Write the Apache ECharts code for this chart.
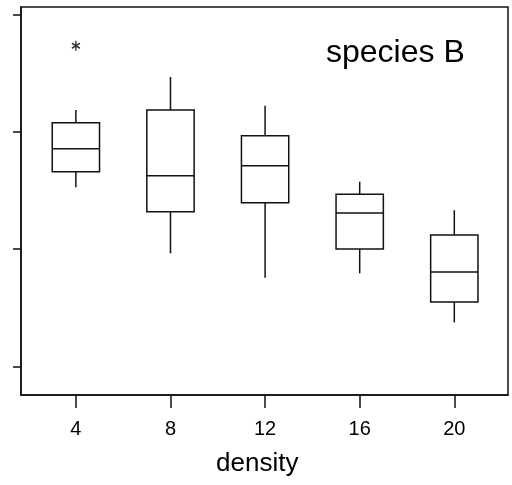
<!DOCTYPE html>
<html>
<head>
<meta charset="utf-8">
<script src="https://cdn.jsdelivr.net/npm/echarts@6/dist/echarts.min.js"></script>
<style>
  html, body { margin: 0; padding: 0; background: #fff; }
  #main { width: 512px; height: 485px; }
</style>
</head>
<body>
<div id="main"></div>
<script>
// density groups and box statistics
var densities   = [4, 8, 12, 16, 20];
var whiskerLow  = [25.27, 19.65, 17.58, 17.95, 13.78];
var q1          = [26.60, 23.20, 23.96, 20.02, 15.51];
var medians     = [28.56, 26.26, 27.11, 23.09, 18.06];
var q3          = [30.77, 31.85, 29.67, 24.68, 21.21];
var whiskerHigh = [31.85, 34.66, 32.22, 25.75, 23.32];
var outliers    = [[4, 37.33]];
var yTicks      = [10, 20, 30, 40];

var FONT = 'Liberation Sans, Arial, sans-serif';
var INK = '#111';

var boxData = densities.map(function (d, i) {
  return [d, whiskerLow[i], q1[i], medians[i], q3[i], whiskerHigh[i]];
});

function renderBox(params, api) {
  var x = api.value(0);
  var lo = api.coord([x, api.value(1)]);
  var b1 = api.coord([x, api.value(2)]);
  var md = api.coord([x, api.value(3)]);
  var b3 = api.coord([x, api.value(4)]);
  var hi = api.coord([x, api.value(5)]);
  var half = api.size([2.0, 0])[0] / 2;
  var st = { stroke: INK, lineWidth: 1.5, fill: 'none' };
  return {
    type: 'group',
    children: [
      { type: 'line', shape: { x1: lo[0], y1: lo[1], x2: b1[0], y2: b1[1] }, style: st },
      { type: 'line', shape: { x1: b3[0], y1: b3[1], x2: hi[0], y2: hi[1] }, style: st },
      { type: 'rect', shape: { x: b3[0] - half, y: b3[1], width: half * 2, height: b1[1] - b3[1] },
        style: { stroke: INK, lineWidth: 1.5, fill: '#fff' } },
      { type: 'line', shape: { x1: md[0] - half, y1: md[1], x2: md[0] + half, y2: md[1] }, style: st }
    ]
  };
}

var chart = echarts.init(document.getElementById('main'));
chart.setOption({
  animation: false,
  backgroundColor: '#fff',
  title: [
    { text: 'species B', left: 326, top: 37, padding: 0,
      textStyle: { fontFamily: FONT, fontSize: 32, fontWeight: 'normal', color: '#000', lineHeight: 32 } },
    { text: 'density', left: 216, top: 451, padding: 0,
      textStyle: { fontFamily: FONT, fontSize: 26, fontWeight: 'normal', color: '#000', lineHeight: 26 } }
  ],
  grid: {
    left: 21, right: 4, top: 7, bottom: 90,
    show: true, borderColor: INK, borderWidth: 1.5, backgroundColor: 'transparent'
  },
  xAxis: {
    type: 'value',
    min: 1.68,
    max: 22.27,
    splitLine: { show: false },
    axisLine: { show: true, lineStyle: { color: INK, width: 1.5 } },
    axisTick: { show: true, length: 13, customValues: densities, lineStyle: { color: INK, width: 1.5 } },
    axisLabel: { customValues: densities, margin: 24, fontFamily: FONT, fontSize: 20, color: '#000' }
  },
  yAxis: {
    type: 'value',
    min: 7.59,
    max: 40.62,
    splitLine: { show: false },
    axisLine: { show: true, lineStyle: { color: INK, width: 1.5 } },
    axisTick: { show: true, length: 8, customValues: yTicks, lineStyle: { color: INK, width: 1.5 } },
    axisLabel: { show: false }
  },
  series: [
    {
      type: 'custom',
      renderItem: renderBox,
      encode: { x: 0, y: [1, 2, 3, 4, 5] },
      data: boxData,
      z: 3
    },
    {
      type: 'scatter',
      data: outliers,
      symbol: 'path://M5 0 L5 12 M0 3 L10 9 M0 9 L10 3',
      symbolSize: [8, 10],
      itemStyle: { color: 'transparent', borderColor: '#000', borderWidth: 1.5 },
      z: 4
    }
  ]
});
</script>
</body>
</html>
